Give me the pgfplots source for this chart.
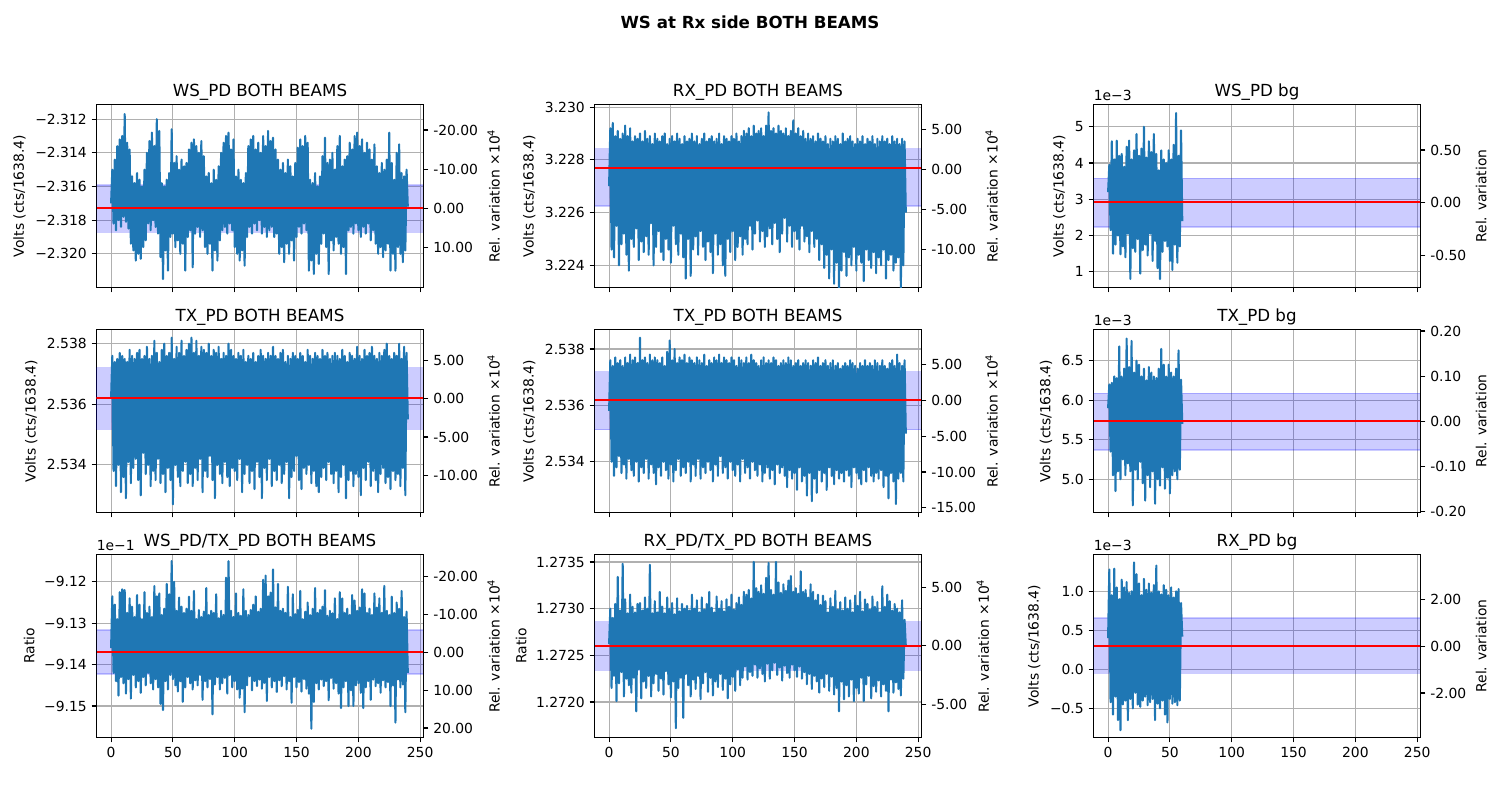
\documentclass[border=0pt]{standalone}
\usepackage{fontspec}
\setmainfont{DejaVu Sans}
\usepackage{pgfplots}
\pgfplotsset{compat=1.18}
\definecolor{mplblue}{HTML}{1F77B4}
\definecolor{gridc}{HTML}{B0B0B0}
\pgfplotsset{
 common/.style={scale only axis, width=235.44pt, height=131.76pt, xmin=-11.8, xmax=252.7, anchor=south west,
   tick align=outside, major tick length=3.5pt, tick style={black, line width=0.8pt},
   axis line style={line width=0.8pt, black}, scaled ticks=false,
   tick label style={font=\fontsize{10}{12}\selectfont},
   label style={font=\fontsize{10}{12}\selectfont}},
 L/.style={common, grid=major, major grid style={gridc, line width=0.8pt},
   xtick={0,50,100,150,200,250}, xtick pos=lower, ytick pos=left,
   every axis title/.style={at={(0.5,1)}, anchor=base, yshift=6pt, font=\fontsize{12}{14}\selectfont}},
 R/.style={common, axis x line=none, axis y line*=right, ytick pos=right, yticklabel pos=right, ylabel near ticks},
 noxl/.style={xticklabels={}},
 xl/.style={xticklabels={0,50,100,150,200,250}},
 band/.style={draw=blue, fill=blue, opacity=0.2, line width=1pt},
 ser/.style={mplblue, line width=1.5pt, line join=round, no markers},
 meanl/.style={red, line width=1.5pt, no markers},
}
\begin{document}
\begin{tikzpicture}
\useasboundingbox (0,0) rectangle (1080pt,576pt);
\node[anchor=north, inner sep=0pt, font=\fontsize{12}{14}\selectfont\bfseries] at (540pt,564.5pt) {WS at Rx side BOTH BEAMS};

% ---------------- A (1,1)
\begin{axis}[L, name=axA, at={(69.48pt,369.0pt)}, title={WS\_PD BOTH BEAMS}, ymin=-2.3220, ymax=-2.31113,
  ytick={-2.320,-2.318,-2.316,-2.314,-2.312}, yticklabels={−2.320,−2.318,−2.316,−2.314,−2.312},
  ylabel={Volts (cts/1638.4)}, noxl]
\addplot[band] coordinates {(-11.8,-2.31872) (252.7,-2.31872) (252.7,-2.31592) (-11.8,-2.31592)} -- cycle;
\addplot[ser] table[x expr=\coordindex, y index=0, row sep=\\] {y\\
-2.3170\\ -2.3150\\ -2.3182\\ -2.3144\\ -2.3186\\ -2.3136\\ -2.3180\\ -2.3132\\ -2.3184\\ -2.3130\\
-2.3178\\ -2.3117\\ -2.3181\\ -2.3134\\ -2.3185\\ -2.3138\\ -2.3194\\ -2.3154\\ -2.3198\\ -2.3158\\
-2.3204\\ -2.3152\\ -2.3200\\ -2.3156\\ -2.3203\\ -2.3160\\ -2.3196\\ -2.3150\\ -2.3192\\ -2.3140\\
-2.3182\\ -2.3133\\ -2.3186\\ -2.3128\\ -2.3180\\ -2.3136\\ -2.3184\\ -2.3120\\ -2.3188\\ -2.3127\\
-2.3202\\ -2.3158\\ -2.3215\\ -2.3160\\ -2.3198\\ -2.3156\\ -2.3210\\ -2.3152\\ -2.3190\\ -2.3126\\
-2.3188\\ -2.3146\\ -2.3196\\ -2.3142\\ -2.3192\\ -2.3150\\ -2.3200\\ -2.3144\\ -2.3194\\ -2.3148\\
-2.3210\\ -2.3146\\ -2.3190\\ -2.3138\\ -2.3186\\ -2.3134\\ -2.3208\\ -2.3132\\ -2.3188\\ -2.3136\\
-2.3184\\ -2.3140\\ -2.3190\\ -2.3133\\ -2.3186\\ -2.3142\\ -2.3196\\ -2.3154\\ -2.3200\\ -2.3152\\
-2.3194\\ -2.3158\\ -2.3210\\ -2.3150\\ -2.3198\\ -2.3156\\ -2.3204\\ -2.3148\\ -2.3192\\ -2.3140\\
-2.3186\\ -2.3134\\ -2.3184\\ -2.3130\\ -2.3188\\ -2.3128\\ -2.3182\\ -2.3138\\ -2.3186\\ -2.3132\\
-2.3196\\ -2.3154\\ -2.3200\\ -2.3150\\ -2.3204\\ -2.3156\\ -2.3198\\ -2.3158\\ -2.3207\\ -2.3152\\
-2.3190\\ -2.3136\\ -2.3184\\ -2.3132\\ -2.3188\\ -2.3130\\ -2.3182\\ -2.3138\\ -2.3186\\ -2.3134\\
-2.3180\\ -2.3140\\ -2.3188\\ -2.3130\\ -2.3184\\ -2.3136\\ -2.3190\\ -2.3127\\ -2.3186\\ -2.3133\\
-2.3184\\ -2.3131\\ -2.3190\\ -2.3138\\ -2.3188\\ -2.3144\\ -2.3200\\ -2.3150\\ -2.3196\\ -2.3146\\
-2.3205\\ -2.3152\\ -2.3194\\ -2.3144\\ -2.3200\\ -2.3148\\ -2.3192\\ -2.3154\\ -2.3204\\ -2.3146\\
-2.3190\\ -2.3137\\ -2.3184\\ -2.3132\\ -2.3188\\ -2.3136\\ -2.3182\\ -2.3130\\ -2.3186\\ -2.3134\\
-2.3210\\ -2.3156\\ -2.3204\\ -2.3158\\ -2.3212\\ -2.3152\\ -2.3200\\ -2.3160\\ -2.3206\\ -2.3154\\
-2.3194\\ -2.3142\\ -2.3188\\ -2.3131\\ -2.3196\\ -2.3146\\ -2.3212\\ -2.3144\\ -2.3192\\ -2.3140\\
-2.3198\\ -2.3150\\ -2.3190\\ -2.3136\\ -2.3194\\ -2.3130\\ -2.3200\\ -2.3148\\ -2.3196\\ -2.3144\\
-2.3212\\ -2.3142\\ -2.3186\\ -2.3134\\ -2.3184\\ -2.3138\\ -2.3188\\ -2.3130\\ -2.3182\\ -2.3128\\
-2.3186\\ -2.3136\\ -2.3190\\ -2.3132\\ -2.3184\\ -2.3140\\ -2.3188\\ -2.3134\\ -2.3182\\ -2.3138\\
-2.3192\\ -2.3144\\ -2.3186\\ -2.3135\\ -2.3194\\ -2.3148\\ -2.3200\\ -2.3152\\ -2.3196\\ -2.3146\\
-2.3202\\ -2.3150\\ -2.3198\\ -2.3144\\ -2.3194\\ -2.3128\\ -2.3210\\ -2.3146\\ -2.3200\\ -2.3156\\
-2.3210\\ -2.3140\\ -2.3196\\ -2.3135\\ -2.3200\\ -2.3152\\ -2.3205\\ -2.3154\\ -2.3198\\ -2.3150\\
-2.3172\\};
\addplot[meanl] coordinates {(-11.8,-2.31726) (252.7,-2.31726)};
\end{axis}
\begin{axis}[R, at={(69.48pt,369.0pt)}, ymin=-20.16, ymax=26.5,
  ytick={-10,0,10,20}, yticklabels={10.00,0.00,-10.00,-20.00}, ylabel={Rel. variation ×10\textsuperscript{4}}]
\end{axis}

% ---------------- B (1,2)
\begin{axis}[L, name=axB, at={(428.04pt,369.0pt)}, title={RX\_PD BOTH BEAMS}, ymin=3.22316, ymax=3.2301,
  ytick={3.224,3.226,3.228,3.230}, yticklabels={3.224,3.226,3.228,3.230},
  ylabel={Volts (cts/1638.4)}, noxl]
\addplot[band] coordinates {(-11.8,3.22625) (252.7,3.22625) (252.7,3.22842) (-11.8,3.22842)} -- cycle;
\addplot[ser] table[x expr=\coordindex, y index=0, row sep=\\] {y\\
3.2270\\ 3.2292\\ 3.2246\\ 3.2294\\ 3.2243\\ 3.2289\\ 3.2255\\ 3.2291\\ 3.2240\\ 3.2288\\
3.2248\\ 3.2290\\ 3.2252\\ 3.2293\\ 3.2244\\ 3.2289\\ 3.2238\\ 3.2292\\ 3.2250\\ 3.2287\\
3.2247\\ 3.2289\\ 3.2254\\ 3.2288\\ 3.2242\\ 3.2290\\ 3.2249\\ 3.2287\\ 3.2245\\ 3.2291\\
3.2251\\ 3.2288\\ 3.2244\\ 3.2289\\ 3.2256\\ 3.2286\\ 3.2240\\ 3.2290\\ 3.2247\\ 3.2288\\
3.2253\\ 3.2287\\ 3.2245\\ 3.2289\\ 3.2242\\ 3.2290\\ 3.2250\\ 3.2286\\ 3.2246\\ 3.2288\\
3.2241\\ 3.2289\\ 3.2255\\ 3.2287\\ 3.2248\\ 3.2290\\ 3.2244\\ 3.2288\\ 3.2252\\ 3.2286\\
3.2243\\ 3.2289\\ 3.2235\\ 3.2287\\ 3.2250\\ 3.2288\\ 3.2236\\ 3.2290\\ 3.2246\\ 3.2287\\
3.2251\\ 3.2289\\ 3.2244\\ 3.2286\\ 3.2253\\ 3.2288\\ 3.2247\\ 3.2290\\ 3.2242\\ 3.2287\\
3.2249\\ 3.2288\\ 3.2245\\ 3.2289\\ 3.2237\\ 3.2287\\ 3.2252\\ 3.2288\\ 3.2244\\ 3.2290\\
3.2248\\ 3.2286\\ 3.2240\\ 3.2289\\ 3.2236\\ 3.2288\\ 3.2250\\ 3.2287\\ 3.2245\\ 3.2289\\
3.2253\\ 3.2288\\ 3.2242\\ 3.2290\\ 3.2247\\ 3.2287\\ 3.2251\\ 3.2289\\ 3.2244\\ 3.2291\\
3.2250\\ 3.2290\\ 3.2248\\ 3.2292\\ 3.2255\\ 3.2289\\ 3.2246\\ 3.2293\\ 3.2252\\ 3.2290\\
3.2257\\ 3.2291\\ 3.2249\\ 3.2292\\ 3.2253\\ 3.2289\\ 3.2247\\ 3.2293\\ 3.2251\\ 3.2298\\
3.2254\\ 3.2291\\ 3.2248\\ 3.2292\\ 3.2256\\ 3.2290\\ 3.2250\\ 3.2293\\ 3.2245\\ 3.2291\\
3.2252\\ 3.2290\\ 3.2258\\ 3.2292\\ 3.2249\\ 3.2289\\ 3.2255\\ 3.2291\\ 3.2247\\ 3.2295\\
3.2253\\ 3.2290\\ 3.2250\\ 3.2292\\ 3.2246\\ 3.2289\\ 3.2255\\ 3.2291\\ 3.2249\\ 3.2288\\
3.2251\\ 3.2290\\ 3.2245\\ 3.2288\\ 3.2253\\ 3.2289\\ 3.2247\\ 3.2287\\ 3.2250\\ 3.2290\\
3.2242\\ 3.2288\\ 3.2248\\ 3.2287\\ 3.2239\\ 3.2289\\ 3.2244\\ 3.2286\\ 3.2235\\ 3.2288\\
3.2246\\ 3.2287\\ 3.2233\\ 3.2289\\ 3.2241\\ 3.2288\\ 3.2231\\ 3.2286\\ 3.2238\\ 3.2290\\
3.2245\\ 3.2287\\ 3.2236\\ 3.2288\\ 3.2243\\ 3.2289\\ 3.2240\\ 3.2287\\ 3.2247\\ 3.2286\\
3.2238\\ 3.2288\\ 3.2244\\ 3.2287\\ 3.2241\\ 3.2289\\ 3.2234\\ 3.2286\\ 3.2246\\ 3.2288\\
3.2242\\ 3.2287\\ 3.2239\\ 3.2289\\ 3.2245\\ 3.2286\\ 3.2237\\ 3.2288\\ 3.2243\\ 3.2287\\
3.2240\\ 3.2289\\ 3.2246\\ 3.2287\\ 3.2235\\ 3.2288\\ 3.2242\\ 3.2286\\ 3.2244\\ 3.2289\\
3.2238\\ 3.2287\\ 3.2241\\ 3.2288\\ 3.2243\\ 3.2286\\ 3.2231\\ 3.2288\\ 3.2240\\ 3.2287\\
3.2260\\};
\addplot[meanl] coordinates {(-11.8,3.22769) (252.7,3.22769)};
\end{axis}
\begin{axis}[R, at={(428.04pt,369.0pt)}, ymin=-14.81, ymax=8.19,
  ytick={-10,-5,0,5}, yticklabels={-10.00,-5.00,0.00,5.00}, ylabel={Rel. variation ×10\textsuperscript{4}}]
\end{axis}

% ---------------- G (1,3)
\begin{axis}[L, name=axG, at={(787.32pt,369.0pt)}, title={WS\_PD bg}, ymin=0.567, ymax=5.615,
  ytick={1,2,3,4,5}, yticklabels={1,2,3,4,5},
  ylabel={Volts (cts/1638.4)}, noxl]
\addplot[band] coordinates {(-11.8,2.241) (252.7,2.241) (252.7,3.574) (-11.8,3.574)} -- cycle;
\addplot[ser] table[x expr=\coordindex, y index=0, row sep=\\] {y\\
3.20\\ 3.95\\ 2.15\\ 4.60\\ 1.50\\ 4.10\\ 1.75\\ 4.62\\ 2.00\\ 4.20\\
1.48\\ 4.25\\ 1.70\\ 3.90\\ 1.40\\ 4.45\\ 2.05\\ 4.62\\ 0.80\\ 4.10\\
1.65\\ 4.35\\ 1.55\\ 4.80\\ 1.90\\ 4.20\\ 0.95\\ 4.40\\ 1.60\\ 5.00\\
1.75\\ 4.15\\ 1.45\\ 4.60\\ 2.05\\ 4.30\\ 1.30\\ 4.80\\ 1.85\\ 4.25\\
1.10\\ 3.80\\ 0.80\\ 4.35\\ 1.55\\ 4.10\\ 1.85\\ 4.00\\ 1.70\\ 4.35\\
1.30\\ 4.10\\ 1.05\\ 4.50\\ 1.75\\ 5.38\\ 1.25\\ 4.20\\ 1.70\\ 4.90\\
2.40\\};
\addplot[meanl] coordinates {(-11.8,2.92) (252.7,2.92)};
\end{axis}
\begin{axis}[R, at={(787.32pt,369.0pt)}, ymin=-0.80, ymax=0.93,
  ytick={-0.5,0,0.5}, yticklabels={-0.50,0.00,0.50}, ylabel={Rel. variation}]
\end{axis}

% ---------------- C (2,1)
\begin{axis}[L, name=axC, at={(69.48pt,207.0pt)}, title={TX\_PD BOTH BEAMS}, ymin=2.53243, ymax=2.53847,
  ytick={2.534,2.536,2.538}, yticklabels={2.534,2.536,2.538},
  ylabel={Volts (cts/1638.4)}, noxl]
\addplot[band] coordinates {(-11.8,2.53517) (252.7,2.53517) (252.7,2.53721) (-11.8,2.53721)} -- cycle;
\addplot[ser] table[x expr=\coordindex, y index=0, row sep=\\] {y\\
2.5362\\ 2.5376\\ 2.5338\\ 2.5374\\ 2.5333\\ 2.5375\\ 2.5340\\ 2.5377\\ 2.5331\\ 2.5376\\
2.5336\\ 2.5375\\ 2.5329\\ 2.5374\\ 2.5341\\ 2.5378\\ 2.5334\\ 2.5376\\ 2.5339\\ 2.5375\\
2.5342\\ 2.5377\\ 2.5335\\ 2.5378\\ 2.5330\\ 2.5375\\ 2.5344\\ 2.5376\\ 2.5337\\ 2.5379\\
2.5340\\ 2.5375\\ 2.5333\\ 2.5376\\ 2.5338\\ 2.5381\\ 2.5335\\ 2.5377\\ 2.5342\\ 2.5374\\
2.5334\\ 2.5378\\ 2.5337\\ 2.5380\\ 2.5331\\ 2.5376\\ 2.5339\\ 2.5377\\ 2.5335\\ 2.5382\\
2.5327\\ 2.5375\\ 2.5340\\ 2.5379\\ 2.5336\\ 2.5377\\ 2.5333\\ 2.5381\\ 2.5338\\ 2.5376\\
2.5341\\ 2.5378\\ 2.5334\\ 2.5380\\ 2.5337\\ 2.5382\\ 2.5333\\ 2.5377\\ 2.5339\\ 2.5381\\
2.5335\\ 2.5376\\ 2.5342\\ 2.5379\\ 2.5331\\ 2.5378\\ 2.5338\\ 2.5377\\ 2.5336\\ 2.5380\\
2.5343\\ 2.5376\\ 2.5335\\ 2.5378\\ 2.5329\\ 2.5377\\ 2.5340\\ 2.5379\\ 2.5337\\ 2.5375\\
2.5334\\ 2.5377\\ 2.5341\\ 2.5376\\ 2.5336\\ 2.5380\\ 2.5333\\ 2.5378\\ 2.5339\\ 2.5376\\
2.5338\\ 2.5375\\ 2.5335\\ 2.5377\\ 2.5342\\ 2.5376\\ 2.5331\\ 2.5378\\ 2.5337\\ 2.5374\\
2.5340\\ 2.5376\\ 2.5334\\ 2.5375\\ 2.5338\\ 2.5377\\ 2.5332\\ 2.5374\\ 2.5341\\ 2.5376\\
2.5336\\ 2.5378\\ 2.5329\\ 2.5376\\ 2.5339\\ 2.5375\\ 2.5335\\ 2.5377\\ 2.5342\\ 2.5376\\
2.5333\\ 2.5379\\ 2.5338\\ 2.5376\\ 2.5335\\ 2.5375\\ 2.5340\\ 2.5377\\ 2.5334\\ 2.5378\\
2.5337\\ 2.5374\\ 2.5341\\ 2.5376\\ 2.5329\\ 2.5375\\ 2.5336\\ 2.5377\\ 2.5338\\ 2.5376\\
2.5343\\ 2.5375\\ 2.5335\\ 2.5377\\ 2.5332\\ 2.5376\\ 2.5339\\ 2.5374\\ 2.5337\\ 2.5378\\
2.5340\\ 2.5376\\ 2.5334\\ 2.5375\\ 2.5338\\ 2.5377\\ 2.5333\\ 2.5376\\ 2.5331\\ 2.5375\\
2.5336\\ 2.5378\\ 2.5339\\ 2.5376\\ 2.5335\\ 2.5377\\ 2.5341\\ 2.5375\\ 2.5337\\ 2.5376\\
2.5334\\ 2.5377\\ 2.5338\\ 2.5376\\ 2.5331\\ 2.5375\\ 2.5336\\ 2.5378\\ 2.5340\\ 2.5376\\
2.5329\\ 2.5374\\ 2.5335\\ 2.5377\\ 2.5338\\ 2.5376\\ 2.5333\\ 2.5375\\ 2.5337\\ 2.5379\\
2.5336\\ 2.5376\\ 2.5330\\ 2.5375\\ 2.5339\\ 2.5378\\ 2.5335\\ 2.5376\\ 2.5341\\ 2.5377\\
2.5333\\ 2.5379\\ 2.5338\\ 2.5376\\ 2.5335\\ 2.5375\\ 2.5331\\ 2.5377\\ 2.5337\\ 2.5376\\
2.5339\\ 2.5378\\ 2.5334\\ 2.5380\\ 2.5336\\ 2.5376\\ 2.5332\\ 2.5375\\ 2.5338\\ 2.5377\\
2.5335\\ 2.5376\\ 2.5337\\ 2.5380\\ 2.5333\\ 2.5375\\ 2.5339\\ 2.5379\\ 2.5330\\ 2.5377\\
2.5355\\};
\addplot[meanl] coordinates {(-11.8,2.53621) (252.7,2.53621)};
\end{axis}
\begin{axis}[R, at={(69.48pt,207.0pt)}, ymin=-14.87, ymax=9.04,
  ytick={-10,-5,0,5}, yticklabels={-10.00,-5.00,0.00,5.00}, ylabel={Rel. variation ×10\textsuperscript{4}}]
\end{axis}

% ---------------- D (2,2)
\begin{axis}[L, name=axD, at={(428.04pt,207.0pt)}, title={TX\_PD BOTH BEAMS}, ymin=2.5322, ymax=2.53869,
  ytick={2.534,2.536,2.538}, yticklabels={2.534,2.536,2.538},
  ylabel={Volts (cts/1638.4)}, noxl]
\addplot[band] coordinates {(-11.8,2.53514) (252.7,2.53514) (252.7,2.53719) (-11.8,2.53719)} -- cycle;
\addplot[ser] table[x expr=\coordindex, y index=0, row sep=\\] {y\\
2.5358\\ 2.5376\\ 2.5340\\ 2.5374\\ 2.5335\\ 2.5377\\ 2.5338\\ 2.5375\\ 2.5342\\ 2.5376\\
2.5336\\ 2.5374\\ 2.5339\\ 2.5377\\ 2.5334\\ 2.5375\\ 2.5341\\ 2.5378\\ 2.5337\\ 2.5376\\
2.5335\\ 2.5377\\ 2.5340\\ 2.5375\\ 2.5333\\ 2.5384\\ 2.5338\\ 2.5376\\ 2.5336\\ 2.5377\\
2.5341\\ 2.5375\\ 2.5334\\ 2.5378\\ 2.5339\\ 2.5376\\ 2.5336\\ 2.5377\\ 2.5332\\ 2.5376\\
2.5338\\ 2.5375\\ 2.5335\\ 2.5377\\ 2.5340\\ 2.5374\\ 2.5337\\ 2.5379\\ 2.5334\\ 2.5383\\
2.5339\\ 2.5376\\ 2.5333\\ 2.5380\\ 2.5337\\ 2.5375\\ 2.5341\\ 2.5377\\ 2.5335\\ 2.5376\\
2.5338\\ 2.5378\\ 2.5336\\ 2.5375\\ 2.5340\\ 2.5377\\ 2.5333\\ 2.5376\\ 2.5339\\ 2.5375\\
2.5335\\ 2.5377\\ 2.5341\\ 2.5376\\ 2.5334\\ 2.5375\\ 2.5338\\ 2.5378\\ 2.5336\\ 2.5374\\
2.5340\\ 2.5376\\ 2.5337\\ 2.5375\\ 2.5333\\ 2.5377\\ 2.5339\\ 2.5376\\ 2.5335\\ 2.5378\\
2.5342\\ 2.5375\\ 2.5336\\ 2.5377\\ 2.5338\\ 2.5376\\ 2.5334\\ 2.5375\\ 2.5340\\ 2.5377\\
2.5337\\ 2.5376\\ 2.5335\\ 2.5374\\ 2.5339\\ 2.5377\\ 2.5333\\ 2.5376\\ 2.5341\\ 2.5375\\
2.5336\\ 2.5377\\ 2.5338\\ 2.5375\\ 2.5334\\ 2.5378\\ 2.5340\\ 2.5376\\ 2.5337\\ 2.5375\\
2.5335\\ 2.5374\\ 2.5339\\ 2.5376\\ 2.5333\\ 2.5377\\ 2.5336\\ 2.5375\\ 2.5338\\ 2.5376\\
2.5334\\ 2.5375\\ 2.5337\\ 2.5377\\ 2.5332\\ 2.5376\\ 2.5339\\ 2.5374\\ 2.5336\\ 2.5375\\
2.5338\\ 2.5376\\ 2.5335\\ 2.5375\\ 2.5331\\ 2.5377\\ 2.5337\\ 2.5376\\ 2.5334\\ 2.5374\\
2.5336\\ 2.5375\\ 2.5330\\ 2.5376\\ 2.5338\\ 2.5374\\ 2.5333\\ 2.5375\\ 2.5335\\ 2.5376\\
2.5328\\ 2.5375\\ 2.5336\\ 2.5374\\ 2.5326\\ 2.5376\\ 2.5334\\ 2.5375\\ 2.5329\\ 2.5377\\
2.5337\\ 2.5374\\ 2.5333\\ 2.5375\\ 2.5336\\ 2.5376\\ 2.5330\\ 2.5374\\ 2.5338\\ 2.5375\\
2.5335\\ 2.5376\\ 2.5332\\ 2.5374\\ 2.5337\\ 2.5375\\ 2.5334\\ 2.5373\\ 2.5336\\ 2.5374\\
2.5333\\ 2.5375\\ 2.5337\\ 2.5374\\ 2.5335\\ 2.5376\\ 2.5331\\ 2.5375\\ 2.5338\\ 2.5374\\
2.5336\\ 2.5373\\ 2.5334\\ 2.5375\\ 2.5332\\ 2.5374\\ 2.5337\\ 2.5376\\ 2.5333\\ 2.5374\\
2.5338\\ 2.5375\\ 2.5335\\ 2.5374\\ 2.5333\\ 2.5376\\ 2.5336\\ 2.5375\\ 2.5334\\ 2.5374\\
2.5337\\ 2.5376\\ 2.5331\\ 2.5374\\ 2.5335\\ 2.5373\\ 2.5327\\ 2.5375\\ 2.5336\\ 2.5376\\
2.5333\\ 2.5374\\ 2.5325\\ 2.5378\\ 2.5334\\ 2.5375\\ 2.5336\\ 2.5374\\ 2.5333\\ 2.5376\\
2.5350\\};
\addplot[meanl] coordinates {(-11.8,2.5362) (252.7,2.5362)};
\end{axis}
\begin{axis}[R, at={(428.04pt,207.0pt)}, ymin=-15.65, ymax=9.87,
  ytick={-15,-10,-5,0,5}, yticklabels={-15.00,-10.00,-5.00,0.00,5.00}, ylabel={Rel. variation ×10\textsuperscript{4}}]
\end{axis}

% ---------------- H (2,3)
\begin{axis}[L, name=axH, at={(787.32pt,207.0pt)}, title={TX\_PD bg}, ymin=4.579, ymax=6.895,
  ytick={5.0,5.5,6.0,6.5}, yticklabels={5.0,5.5,6.0,6.5},
  ylabel={Volts (cts/1638.4)}, noxl]
\addplot[band] coordinates {(-11.8,5.370) (252.7,5.370) (252.7,6.085) (-11.8,6.085)} -- cycle;
\addplot[ser] table[x expr=\coordindex, y index=0, row sep=\\] {y\\
5.90\\ 6.20\\ 5.35\\ 6.22\\ 5.05\\ 6.30\\ 4.85\\ 6.28\\ 5.10\\ 6.68\\
5.00\\ 6.30\\ 5.25\\ 6.40\\ 5.05\\ 6.78\\ 5.20\\ 6.42\\ 5.10\\ 6.75\\
4.67\\ 6.35\\ 5.12\\ 6.50\\ 5.00\\ 6.45\\ 5.22\\ 6.30\\ 4.95\\ 6.40\\
4.73\\ 6.25\\ 5.05\\ 6.42\\ 4.90\\ 6.35\\ 5.10\\ 6.30\\ 4.69\\ 6.28\\
5.00\\ 6.40\\ 4.92\\ 6.65\\ 5.15\\ 6.45\\ 4.88\\ 6.30\\ 5.02\\ 6.45\\
4.82\\ 6.35\\ 5.05\\ 6.30\\ 5.10\\ 6.40\\ 5.00\\ 6.63\\ 5.12\\ 6.26\\
5.70\\};
\addplot[meanl] coordinates {(-11.8,5.736) (252.7,5.736)};
\end{axis}
\begin{axis}[R, at={(787.32pt,207.0pt)}, ymin=-0.2027, ymax=0.2034,
  ytick={-0.2,-0.1,0,0.1,0.2}, yticklabels={-0.20,-0.10,0.00,0.10,0.20}, ylabel={Rel. variation}]
\end{axis}

% ---------------- E (3,1)
\begin{axis}[L, name=axE, at={(69.48pt,45.0pt)}, title={WS\_PD/TX\_PD BOTH BEAMS}, ymin=-9.1576, ymax=-9.1134,
  ytick={-9.15,-9.14,-9.13,-9.12}, yticklabels={−9.15,−9.14,−9.13,−9.12},
  ylabel={Ratio}, xl]
\addplot[band] coordinates {(-11.8,-9.1423) (252.7,-9.1423) (252.7,-9.1316) (-11.8,-9.1316)} -- cycle;
\addplot[ser] table[x expr=\coordindex, y index=0, row sep=\\] {y\\
-9.1360\\ -9.1235\\ -9.1420\\ -9.1255\\ -9.1440\\ -9.1290\\ -9.1475\\ -9.1225\\ -9.1430\\ -9.1218\\
-9.1445\\ -9.1220\\ -9.1470\\ -9.1275\\ -9.1435\\ -9.1240\\ -9.1482\\ -9.1260\\ -9.1425\\ -9.1285\\
-9.1455\\ -9.1232\\ -9.1440\\ -9.1255\\ -9.1468\\ -9.1290\\ -9.1430\\ -9.1225\\ -9.1450\\ -9.1275\\
-9.1420\\ -9.1260\\ -9.1445\\ -9.1285\\ -9.1460\\ -9.1210\\ -9.1435\\ -9.1235\\ -9.1455\\ -9.1228\\
-9.1495\\ -9.1280\\ -9.1510\\ -9.1265\\ -9.1440\\ -9.1205\\ -9.1460\\ -9.1230\\ -9.1425\\ -9.1150\\
-9.1435\\ -9.1200\\ -9.1450\\ -9.1270\\ -9.1465\\ -9.1238\\ -9.1440\\ -9.1260\\ -9.1490\\ -9.1275\\
-9.1455\\ -9.1265\\ -9.1430\\ -9.1236\\ -9.1445\\ -9.1270\\ -9.1460\\ -9.1222\\ -9.1438\\ -9.1290\\
-9.1450\\ -9.1268\\ -9.1425\\ -9.1285\\ -9.1485\\ -9.1272\\ -9.1440\\ -9.1215\\ -9.1455\\ -9.1280\\
-9.1435\\ -9.1270\\ -9.1520\\ -9.1275\\ -9.1448\\ -9.1230\\ -9.1430\\ -9.1288\\ -9.1460\\ -9.1270\\
-9.1445\\ -9.1280\\ -9.1432\\ -9.1190\\ -9.1470\\ -9.1150\\ -9.1425\\ -9.1270\\ -9.1455\\ -9.1285\\
-9.1440\\ -9.1228\\ -9.1460\\ -9.1275\\ -9.1480\\ -9.1282\\ -9.1458\\ -9.1218\\ -9.1515\\ -9.1270\\
-9.1450\\ -9.1280\\ -9.1428\\ -9.1268\\ -9.1462\\ -9.1255\\ -9.1440\\ -9.1235\\ -9.1452\\ -9.1272\\
-9.1436\\ -9.1265\\ -9.1458\\ -9.1195\\ -9.1444\\ -9.1185\\ -9.1488\\ -9.1235\\ -9.1430\\ -9.1226\\
-9.1455\\ -9.1170\\ -9.1440\\ -9.1262\\ -9.1466\\ -9.1205\\ -9.1438\\ -9.1270\\ -9.1452\\ -9.1265\\
-9.1428\\ -9.1275\\ -9.1460\\ -9.1212\\ -9.1440\\ -9.1285\\ -9.1492\\ -9.1230\\ -9.1430\\ -9.1278\\
-9.1455\\ -9.1268\\ -9.1442\\ -9.1222\\ -9.1465\\ -9.1290\\ -9.1435\\ -9.1272\\ -9.1458\\ -9.1250\\
-9.1470\\ -9.1280\\ -9.1555\\ -9.1265\\ -9.1490\\ -9.1215\\ -9.1445\\ -9.1275\\ -9.1460\\ -9.1268\\
-9.1436\\ -9.1260\\ -9.1452\\ -9.1220\\ -9.1440\\ -9.1282\\ -9.1486\\ -9.1270\\ -9.1432\\ -9.1276\\
-9.1458\\ -9.1240\\ -9.1445\\ -9.1290\\ -9.1470\\ -9.1225\\ -9.1505\\ -9.1240\\ -9.1455\\ -9.1275\\
-9.1440\\ -9.1265\\ -9.1500\\ -9.1280\\ -9.1462\\ -9.1232\\ -9.1500\\ -9.1245\\ -9.1450\\ -9.1270\\
-9.1445\\ -9.1262\\ -9.1468\\ -9.1218\\ -9.1505\\ -9.1228\\ -9.1455\\ -9.1275\\ -9.1440\\ -9.1265\\
-9.1485\\ -9.1280\\ -9.1436\\ -9.1228\\ -9.1452\\ -9.1262\\ -9.1445\\ -9.1240\\ -9.1468\\ -9.1275\\
-9.1438\\ -9.1210\\ -9.1455\\ -9.1270\\ -9.1442\\ -9.1280\\ -9.1500\\ -9.1236\\ -9.1450\\ -9.1275\\
-9.1540\\ -9.1250\\ -9.1436\\ -9.1265\\ -9.1455\\ -9.1222\\ -9.1448\\ -9.1285\\ -9.1515\\ -9.1272\\
-9.1420\\};
\addplot[meanl] coordinates {(-11.8,-9.13697) (252.7,-9.13697)};
\end{axis}
\begin{axis}[R, at={(69.48pt,45.0pt)}, ymin=-22.49, ymax=25.74,
  ytick={-20,-10,0,10,20}, yticklabels={20.00,10.00,0.00,-10.00,-20.00}, ylabel={Rel. variation ×10\textsuperscript{4}}]
\end{axis}

% ---------------- F (3,2)
\begin{axis}[L, name=axF, at={(428.04pt,45.0pt)}, title={RX\_PD/TX\_PD BOTH BEAMS}, ymin=1.27162, ymax=1.27358,
  ytick={1.2720,1.2725,1.2730,1.2735}, yticklabels={1.2720,1.2725,1.2730,1.2735},
  ylabel={Ratio}, xl]
\addplot[band] coordinates {(-11.8,1.27234) (252.7,1.27234) (252.7,1.27286) (-11.8,1.27286)} -- cycle;
\addplot[ser] table[x expr=\coordindex, y index=0, row sep=\\] {y\\
1.27262\\ 1.27300\\ 1.27215\\ 1.27290\\ 1.27228\\ 1.27305\\ 1.27201\\ 1.27334\\ 1.27220\\ 1.27298\\
1.27232\\ 1.27348\\ 1.27206\\ 1.27310\\ 1.27225\\ 1.27295\\ 1.27218\\ 1.27315\\ 1.27210\\ 1.27302\\
1.27226\\ 1.27296\\ 1.27190\\ 1.27305\\ 1.27235\\ 1.27306\\ 1.27204\\ 1.27298\\ 1.27222\\ 1.27312\\
1.27215\\ 1.27300\\ 1.27228\\ 1.27347\\ 1.27206\\ 1.27295\\ 1.27220\\ 1.27308\\ 1.27230\\ 1.27296\\
1.27212\\ 1.27318\\ 1.27225\\ 1.27302\\ 1.27208\\ 1.27295\\ 1.27233\\ 1.27312\\ 1.27219\\ 1.27300\\
1.27205\\ 1.27306\\ 1.27222\\ 1.27294\\ 1.27172\\ 1.27311\\ 1.27215\\ 1.27297\\ 1.27226\\ 1.27305\\
1.27183\\ 1.27300\\ 1.27230\\ 1.27303\\ 1.27218\\ 1.27298\\ 1.27206\\ 1.27315\\ 1.27224\\ 1.27300\\
1.27214\\ 1.27309\\ 1.27228\\ 1.27296\\ 1.27203\\ 1.27312\\ 1.27220\\ 1.27299\\ 1.27232\\ 1.27305\\
1.27211\\ 1.27318\\ 1.27226\\ 1.27301\\ 1.27207\\ 1.27296\\ 1.27222\\ 1.27313\\ 1.27216\\ 1.27300\\
1.27230\\ 1.27308\\ 1.27213\\ 1.27297\\ 1.27225\\ 1.27310\\ 1.27204\\ 1.27302\\ 1.27219\\ 1.27315\\
1.27227\\ 1.27299\\ 1.27212\\ 1.27306\\ 1.27235\\ 1.27312\\ 1.27218\\ 1.27304\\ 1.27226\\ 1.27318\\
1.27238\\ 1.27315\\ 1.27224\\ 1.27320\\ 1.27232\\ 1.27311\\ 1.27228\\ 1.27350\\ 1.27240\\ 1.27322\\
1.27226\\ 1.27318\\ 1.27236\\ 1.27325\\ 1.27230\\ 1.27316\\ 1.27222\\ 1.27333\\ 1.27241\\ 1.27349\\
1.27225\\ 1.27320\\ 1.27234\\ 1.27315\\ 1.27242\\ 1.27350\\ 1.27229\\ 1.27328\\ 1.27237\\ 1.27317\\
1.27223\\ 1.27326\\ 1.27239\\ 1.27319\\ 1.27231\\ 1.27330\\ 1.27226\\ 1.27335\\ 1.27240\\ 1.27318\\
1.27234\\ 1.27322\\ 1.27227\\ 1.27316\\ 1.27238\\ 1.27340\\ 1.27225\\ 1.27318\\ 1.27232\\ 1.27320\\
1.27219\\ 1.27312\\ 1.27230\\ 1.27326\\ 1.27214\\ 1.27318\\ 1.27228\\ 1.27309\\ 1.27222\\ 1.27315\\
1.27210\\ 1.27304\\ 1.27225\\ 1.27314\\ 1.27216\\ 1.27308\\ 1.27230\\ 1.27296\\ 1.27212\\ 1.27311\\
1.27227\\ 1.27302\\ 1.27208\\ 1.27319\\ 1.27215\\ 1.27299\\ 1.27190\\ 1.27307\\ 1.27222\\ 1.27298\\
1.27203\\ 1.27312\\ 1.27218\\ 1.27300\\ 1.27206\\ 1.27309\\ 1.27224\\ 1.27296\\ 1.27201\\ 1.27314\\
1.27215\\ 1.27303\\ 1.27209\\ 1.27318\\ 1.27226\\ 1.27297\\ 1.27201\\ 1.27310\\ 1.27219\\ 1.27305\\
1.27228\\ 1.27299\\ 1.27204\\ 1.27313\\ 1.27217\\ 1.27302\\ 1.27211\\ 1.27307\\ 1.27223\\ 1.27296\\
1.27206\\ 1.27324\\ 1.27219\\ 1.27302\\ 1.27212\\ 1.27315\\ 1.27190\\ 1.27308\\ 1.27224\\ 1.27298\\
1.27210\\ 1.27305\\ 1.27221\\ 1.27300\\ 1.27214\\ 1.27296\\ 1.27207\\ 1.27309\\ 1.27225\\ 1.27288\\
1.27260\\};
\addplot[meanl] coordinates {(-11.8,1.27260) (252.7,1.27260)};
\end{axis}
\begin{axis}[R, at={(428.04pt,45.0pt)}, ymin=-7.82, ymax=7.80,
  ytick={-5,0,5}, yticklabels={-5.00,0.00,5.00}, ylabel={Rel. variation ×10\textsuperscript{4}}]
\end{axis}

% ---------------- I (3,3)
\begin{axis}[L, name=axI, at={(787.32pt,45.0pt)}, title={RX\_PD bg}, ymin=-0.873, ymax=1.472,
  ytick={-0.5,0,0.5,1.0}, yticklabels={−0.5,0.0,0.5,1.0},
  ylabel={Volts (cts/1638.4)}, xl]
\addplot[band] coordinates {(-11.8,-0.051) (252.7,-0.051) (252.7,0.659) (-11.8,0.659)} -- cycle;
\addplot[ser] table[x expr=\coordindex, y index=0, row sep=\\] {y\\
0.40\\ 1.28\\ -0.42\\ 0.95\\ -0.58\\ 1.29\\ -0.35\\ 1.05\\ -0.65\\ 0.90\\
-0.78\\ 1.15\\ -0.45\\ 1.05\\ -0.40\\ 1.12\\ -0.65\\ 0.98\\ -0.38\\ 1.00\\
-0.50\\ 1.37\\ -0.30\\ 1.22\\ -0.45\\ 1.10\\ -0.48\\ 0.95\\ -0.40\\ 1.16\\
-0.35\\ 1.02\\ -0.46\\ 1.10\\ -0.42\\ 0.98\\ -0.38\\ 1.08\\ -0.65\\ 1.33\\
-0.44\\ 1.00\\ -0.50\\ 0.96\\ -0.40\\ 1.08\\ -0.58\\ 1.02\\ -0.68\\ 0.95\\
-0.38\\ 1.05\\ -0.44\\ 0.92\\ -0.42\\ 1.00\\ -0.46\\ 1.03\\ -0.40\\ 0.85\\
0.42\\};
\addplot[meanl] coordinates {(-11.8,0.303) (252.7,0.303)};
\end{axis}
\begin{axis}[R, at={(787.32pt,45.0pt)}, ymin=-3.90, ymax=3.91,
  ytick={-2,0,2}, yticklabels={-2.00,0.00,2.00}, ylabel={Rel. variation}]
\end{axis}

\node[anchor=base west, inner sep=0pt, font=\fontsize{10}{12}\selectfont] at ([yshift=3pt]axG.north west) {1e−3};
\node[anchor=base west, inner sep=0pt, font=\fontsize{10}{12}\selectfont] at ([yshift=3pt]axH.north west) {1e−3};
\node[anchor=base west, inner sep=0pt, font=\fontsize{10}{12}\selectfont] at ([yshift=3pt]axI.north west) {1e−3};
\node[anchor=base west, inner sep=0pt, font=\fontsize{10}{12}\selectfont] at ([yshift=3pt]axE.north west) {1e−1};
\end{tikzpicture}
\end{document}
